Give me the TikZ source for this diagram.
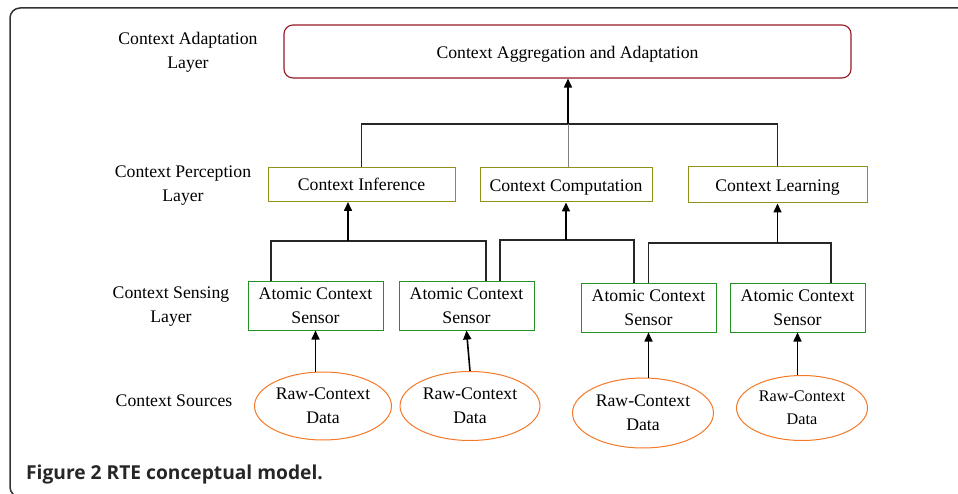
\documentclass[tikz,border=0pt]{standalone}
\usepackage{fontspec}
\setmainfont{Liberation Serif}
\newfontfamily\capfont{Open Sans}
\usetikzlibrary{shapes.geometric,arrows.meta}
\definecolor{aggred}{RGB}{150,25,35}
\definecolor{perolive}{RGB}{145,145,25}
\definecolor{sensgreen}{RGB}{35,145,35}
\definecolor{srcorange}{RGB}{245,120,40}
\definecolor{framegray}{RGB}{50,50,50}
\tikzset{
  aggbox/.style={draw=aggred, rounded corners=9pt, minimum width=567pt, minimum height=53pt, line width=1.1pt, text height=18pt, text depth=3pt},
  perbox/.style={draw=perolive, minimum height=34pt, line width=1pt, text height=16pt, text depth=3pt},
  sensbox/.style={draw=sensgreen, minimum width=135pt, minimum height=48pt, line width=1pt},
  srcnode/.style={draw=srcorange, ellipse, line width=1pt},
  bus/.style={line width=1.4pt, black!85},
  up/.style={line width=1.6pt, -{Triangle[length=9pt,width=8pt]}},
}
\begin{document}
\begin{tikzpicture}[x=1pt,y=-1pt,
  every node/.style={font=\fontsize{17.7}{24}\selectfont, align=center, inner sep=0pt}]
  \useasboundingbox (0,0) rectangle (958,494);
  \clip (0,0) rectangle (958,494);
  \draw[framegray, line width=1.5pt, rounded corners=10pt] (962,8) -- (10,8) -- (10,497) -- (962,497);

  % layer labels
  \node (lAdapt) at (188,52) {Context Adaptation\\Layer};
  \node (lPerc) at (183,186) {Context Perception\\Layer};
  \node (lSens) at (171,307) {Context Sensing\\Layer};
  \node (lSrc) at (174,401) {Context Sources};

  % adaptation and perception
  \node[aggbox] (agg) at (567.5,51.5) {Context Aggregation and Adaptation};
  \node[perbox, minimum width=187pt] (inf) at (361.5,184.5) {Context Inference};
  \node[perbox, minimum width=172pt] (comp) at (566,185) {Context Computation};
  \node[perbox, minimum width=179pt, minimum height=36pt] (learn) at (777.5,185) {Context Learning};

  % sensing
  \node[sensbox] (s1) at (315.5,306) {Atomic Context\\Sensor};
  \node[sensbox] (s2) at (466.5,306) {Atomic Context\\Sensor};
  \node[sensbox] (s3) at (648.5,308) {Atomic Context\\Sensor};
  \node[sensbox] (s4) at (797.5,308) {Atomic Context\\Sensor};

  % sources
  \node[srcnode, minimum width=137pt, minimum height=68pt] (e1) at (323,406) {Raw-Context\\Data};
  \node[srcnode, minimum width=140pt, minimum height=69pt] (e2) at (470,406) {Raw-Context\\Data};
  \node[srcnode, minimum width=141pt, minimum height=70pt] (e3) at (643,413) {Raw-Context\\Data};
  \node[srcnode, minimum width=131pt, minimum height=65pt, font=\fontsize{16.2}{23}\selectfont] (e4) at (802,408) {Raw-Context\\Data};

  \draw[up] (s1.south |- e1.north) -- (s1.south);
  \draw[up] (e2.north) -- (s2.south);
  \draw[up] (s3.south |- e3.north) -- (s3.south);
  \draw[up] (s4.south |- e4.north) -- (s4.south);

  % sensor buses
  \coordinate (bI) at (348,241);
  \coordinate (bC) at (566,240);
  \coordinate (bL) at (777.5,243);
  \draw[bus] ([xshift=-44.5pt]s1.north) |- (bI) -| ([xshift=19.5pt]s2.north);
  \draw[bus] ([xshift=33.5pt]s2.north) |- (bC) -| ([xshift=-14.5pt]s3.north);
  \draw[bus] (s3.north) |- (bL) -| ([xshift=33.5pt]s4.north);
  \draw[up] (bI) -- (bI |- inf.south);
  \draw[up] (bC) -- (comp.south);
  \draw[up] (bL) -- (learn.south);

  % perception bus
  \coordinate (bA) at (568,124);
  \draw[bus] (inf.north) |- (bA) -| (learn.north);
  \draw[gray, line width=0.9pt] ([xshift=2pt]comp.north) -- (bA);
  \draw[up] (bA) -- (bA |- agg.south);

  \node[anchor=base west, font=\capfont\bfseries\fontsize{19.2}{22}\selectfont, text=black!85] (cap) at (26,479) {Figure 2 RTE conceptual model.};
\end{tikzpicture}
\end{document}
